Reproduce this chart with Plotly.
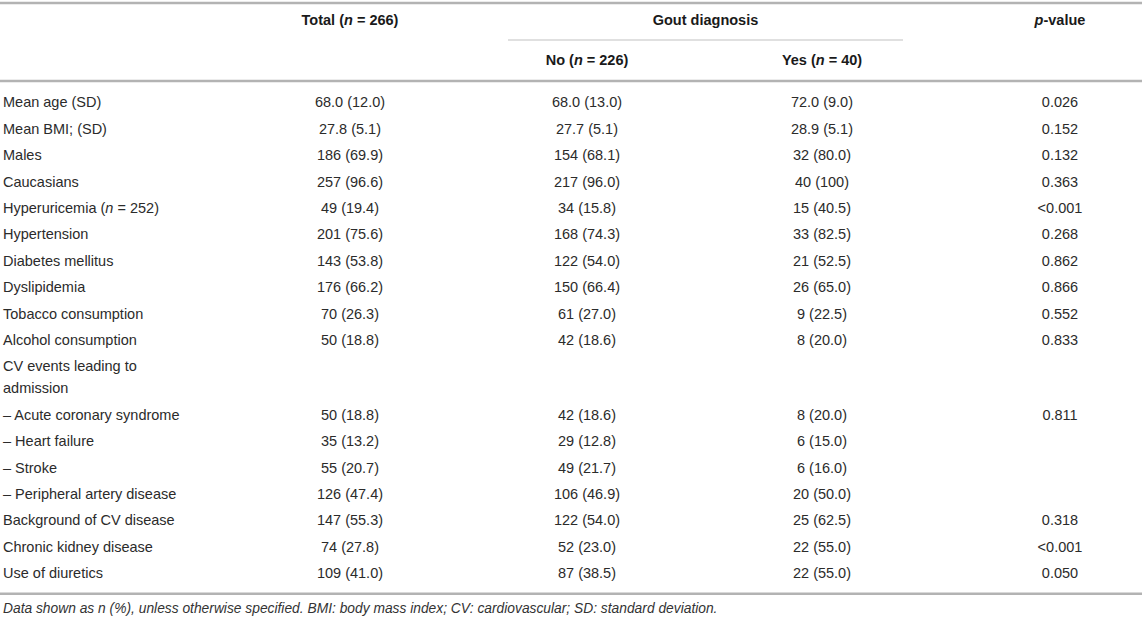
import plotly.graph_objects as go

labels = [
    'Mean age (SD)',
    'Mean BMI; (SD)',
    'Males',
    'Caucasians',
    'Hyperuricemia (<i>n</i> = 252)',
    'Hypertension',
    'Diabetes mellitus',
    'Dyslipidemia',
    'Tobacco consumption',
    'Alcohol consumption',
    'CV events leading to<br>admission',
    '\u2013 Acute coronary syndrome',
    '\u2013 Heart failure',
    '\u2013 Stroke',
    '\u2013 Peripheral artery disease',
    'Background of CV disease',
    'Chronic kidney disease',
    'Use of diuretics',
]
total = ['68.0 (12.0)', '27.8 (5.1)', '186 (69.9)', '257 (96.6)', '49 (19.4)',
         '201 (75.6)', '143 (53.8)', '176 (66.2)', '70 (26.3)', '50 (18.8)', '',
         '50 (18.8)', '35 (13.2)', '55 (20.7)', '126 (47.4)', '147 (55.3)',
         '74 (27.8)', '109 (41.0)']
gout_no = ['68.0 (13.0)', '27.7 (5.1)', '154 (68.1)', '217 (96.0)', '34 (15.8)',
           '168 (74.3)', '122 (54.0)', '150 (66.4)', '61 (27.0)', '42 (18.6)', '',
           '42 (18.6)', '29 (12.8)', '49 (21.7)', '106 (46.9)', '122 (54.0)',
           '52 (23.0)', '87 (38.5)']
gout_yes = ['72.0 (9.0)', '28.9 (5.1)', '32 (80.0)', '40 (100)', '15 (40.5)',
            '33 (82.5)', '21 (52.5)', '26 (65.0)', '9 (22.5)', '8 (20.0)', '',
            '8 (20.0)', '6 (15.0)', '6 (16.0)', '20 (50.0)', '25 (62.5)',
            '22 (55.0)', '22 (55.0)']
pvalue = ['0.026', '0.152', '0.132', '0.363', '<0.001', '0.268', '0.862', '0.866',
          '0.552', '0.833', '', '0.811', '', '', '', '0.318', '<0.001', '0.050']

footnote = ('Data shown as n (%), unless otherwise specified. BMI: body mass index; '
            'CV: cardiovascular; SD: standard deviation.')

W, H = 1142, 622
FONT = 'Liberation Sans, Arial, sans-serif'
SIZE = 14.5
TXT = '#2b2b2b'
RULE = '#b3b3b3'

# layout of the table (pixel units on the axes)
x_label = 3
x_cols = [350, 587, 822, 1060]
gout_span = (508, 903)
row_top = 90.5
pitch = 26.4
line_gap = 22

# row centres: multi-line rows get extra height
ys, y = [], row_top
for lab in labels:
    n = lab.count('<br>') + 1
    h = pitch + (n - 1) * line_gap
    ys.append(y + h / 2)
    y += h
table_bottom = y + 6

fig = go.Figure()

# label column: split multi-line labels so the line spacing can be controlled
lx, ly, lt = [], [], []
for lab, yc in zip(labels, ys):
    parts = lab.split('<br>')
    off = -(len(parts) - 1) * line_gap / 2
    for k, p in enumerate(parts):
        lx.append(x_label)
        ly.append(yc + off + k * line_gap)
        lt.append(p)

fig.add_trace(go.Scatter(
    x=lx, y=ly, text=lt, mode='text', textposition='middle right', cliponaxis=False,
    textfont=dict(family=FONT, size=SIZE, color=TXT), hoverinfo='skip'))

for xc, col in zip(x_cols, [total, gout_no, gout_yes, pvalue]):
    fig.add_trace(go.Scatter(
        x=[xc] * len(col), y=ys, text=col, mode='text', textposition='middle center',
        cliponaxis=False,
        textfont=dict(family=FONT, size=SIZE, color=TXT), hoverinfo='skip'))

# header
head_x = [x_cols[0], sum(gout_span) / 2, x_cols[3], x_cols[1], x_cols[2]]
head_y = [21, 21, 21, 61, 61]
head_t = ['<b>Total (<i>n</i> = 266)</b>', '<b>Gout diagnosis</b>',
          '<b><i>p</i>-value</b>', '<b>No (<i>n</i> = 226)</b>',
          '<b>Yes (<i>n</i> = 40)</b>']
fig.add_trace(go.Scatter(
    x=head_x, y=head_y, text=head_t, mode='text', textposition='middle center',
    cliponaxis=False,
    textfont=dict(family=FONT, size=SIZE, color='#1a1a1a'), hoverinfo='skip'))

# footnote
fig.add_trace(go.Scatter(
    x=[x_label], y=[table_bottom + 16], text=['<i>' + footnote + '</i>'], mode='text',
    textposition='middle right', cliponaxis=False,
    textfont=dict(family=FONT, size=13.8, color='#333333'), hoverinfo='skip'))

# rules
rules = [(0, W, 3, 2.5), (gout_span[0], gout_span[1], 40, 1.2), (0, W, 81, 2.5),
         (0, W, table_bottom, 2.5)]
for x0, x1, yy, w in rules:
    fig.add_shape(type='line', x0=x0, x1=x1, y0=yy, y1=yy, xref='x', yref='y',
                  line=dict(color=RULE if w > 2 else '#c2c2c2', width=w))

fig.update_layout(
    width=W, height=H,
    margin=dict(l=0, r=0, t=0, b=0),
    paper_bgcolor='white', plot_bgcolor='white',
    showlegend=False,
    xaxis=dict(range=[0, W], visible=False, fixedrange=True),
    yaxis=dict(range=[H, 0], visible=False, fixedrange=True),
)

# drop the page's default body margin so the table sits at the window edge
fig.write_html('out.html', config={'displayModeBar': False},
               post_script="document.body.style.margin = '0';")
